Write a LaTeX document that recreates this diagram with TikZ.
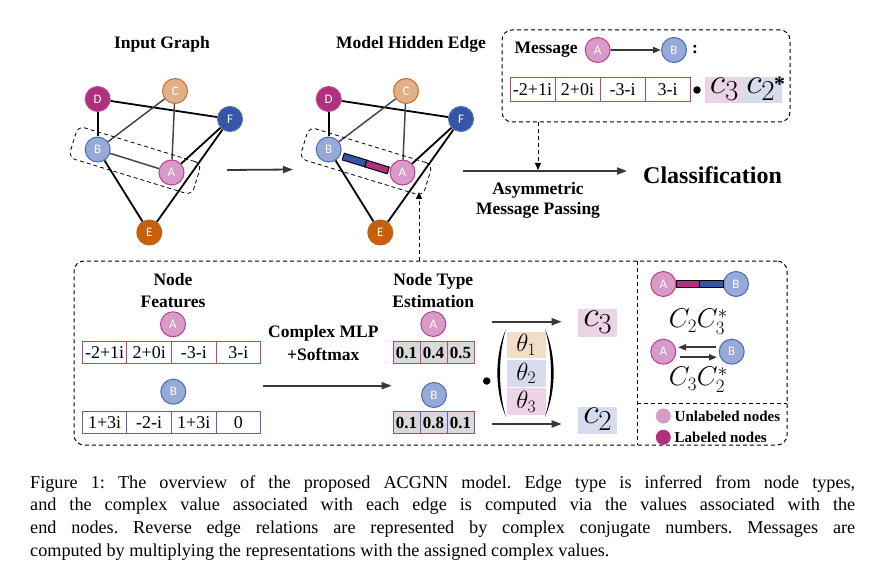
\RequirePackage{fix-cm}
\documentclass[tikz,border=0pt]{standalone}
\usepackage{amsmath}
\usepackage[no-math]{fontspec}
\setmainfont{Liberation Serif}
\newfontfamily\lblfont{Carlito}
\usetikzlibrary{arrows.meta,calc}

\definecolor{labmag}{HTML}{B0307F}
\definecolor{unlabfill}{HTML}{D89AC6}
\definecolor{unlabdraw}{HTML}{B8408F}
\definecolor{bfill}{HTML}{97A9D6}
\definecolor{bdraw}{HTML}{4A6AB8}
\definecolor{ffill}{HTML}{3556A6}
\definecolor{cfill}{HTML}{E2B088}
\definecolor{cdraw}{HTML}{C8702A}
\definecolor{efill}{HTML}{C4600E}
\definecolor{pinkbg}{HTML}{EDD3E6}
\definecolor{bluebg}{HTML}{D6DCEE}
\definecolor{beigebg}{HTML}{F2DDC6}
\definecolor{arrgray}{HTML}{383838}

\newcommand\bigcv[1]{{\fontsize{36}{36}\selectfont$c$}\raisebox{-7pt}{\fontsize{29}{29}\selectfont$#1$}}

\tikzset{
  gnode/.style={circle, minimum size=25pt, inner sep=0pt, line width=1pt, text=white, font=\lblfont\fontsize{13}{13}\selectfont},
  nA/.style={gnode, fill=unlabfill, draw=unlabdraw},
  nB/.style={gnode, fill=bfill, draw=bdraw},
  nC/.style={gnode, fill=cfill, draw=cdraw},
  nD/.style={gnode, fill=labmag, draw=labmag!85!white},
  nE/.style={gnode, fill=efill, draw=efill},
  nF/.style={gnode, fill=ffill, draw=ffill!85!white},
  ttl/.style={font=\bfseries\fontsize{17.5}{20}\selectfont, align=center},
  blk/.style={line width=1.8pt, black},
  gry/.style={line width=1.5pt, black!72},
  arr/.style={-{Triangle[length=10pt,width=7pt]}, line width=1.8pt, arrgray},
  sarr/.style={-{Triangle[length=8pt,width=6pt]}, line width=1.8pt, arrgray},
  darr/.style={-{Triangle[length=7pt,width=6pt]}, line width=1pt, dash pattern=on 4pt off 3pt, black},
  dline/.style={line width=1pt, dash pattern=on 4pt off 3pt, black},
  dbox/.style={draw, line width=1pt, dash pattern=on 4pt off 3pt, rounded corners=10pt, inner sep=0pt},
  selbox/.style={draw, line width=0.8pt, dash pattern=on 4pt off 3pt, rounded corners=7pt, inner sep=0pt, rotate=-17, minimum width=129pt, minimum height=33pt},
  fcell/.style={draw, minimum width=44.6pt, minimum height=21.7pt, inner sep=0pt, line width=1pt, font=\fontsize{18}{18}\selectfont},
  tcell/.style={draw, fill=black!15, minimum width=27pt, minimum height=22pt, inner sep=0pt, line width=1pt, font=\bfseries\fontsize{17}{17}\selectfont},
  bgbox/.style={inner sep=0pt},
  barseg/.style={draw, line width=1pt, inner sep=0pt, minimum width=23.5pt, minimum height=7pt},
}

\begin{document}
\begin{tikzpicture}[x=1pt,y=-1pt]
\useasboundingbox (0,0) rectangle (869,577);

% ---------------- Input graph ----------------
\node[ttl] (t1) at (162,44) {Input Graph};
\node[nD] (D) at (97.7,99) {D};
\node[nC] (C) at (175,91) {C};
\node[nF] (F) at (230,119) {F};
\node[nB] (B) at (97.7,149.5) {B};
\node[nA] (A) at (171.5,172.5) {A};
\node[nE] (E) at (149.3,232.5) {E};
\draw[blk] (D) -- (F);
\draw[blk] (D) -- (B);
\draw[blk] (B) -- (E);
\draw[blk] (F) -- (E);
\draw[blk] (F) -- (A);
\draw[gry] (C) -- (B);
\draw[gry] (C) -- (A);
\draw[gry] (B) -- (A);
\node[selbox] (sel1) at (135,160.5) {};

\coordinate (g1out) at (227,170);
\coordinate (g2in) at (293,169.5);
\draw[arr] (g1out) -- (g2in);

% ---------------- Model hidden edge ----------------
\node[ttl] (t2) at (411,44) {Model Hidden Edge};
\node[nD] (hD) at (328.7,99) {D};
\node[nC] (hC) at (406,91) {C};
\node[nF] (hF) at (461,119) {F};
\node[nB] (hB) at (328.7,149.5) {B};
\node[nA] (hA) at (402.5,172.5) {A};
\node[nE] (hE) at (380.3,232.5) {E};
\draw[blk] (hD) -- (hF);
\draw[blk] (hD) -- (hB);
\draw[blk] (hB) -- (hE);
\draw[blk] (hF) -- (hE);
\draw[blk] (hF) -- (hA);
\draw[gry] (hC) -- (hB);
\draw[gry] (hC) -- (hA);
\node[barseg, fill=ffill, rotate=-17] (hbar1) at (354.5,160) {};
\node[barseg, fill=labmag, rotate=-17] (hbar2) at (377,167) {};
\node[selbox] (sel2) at (366,161.5) {};

% ---------------- Message box ----------------
\node[dbox, minimum width=288pt, minimum height=92pt] (msgbox) at (646,76) {};
\node[ttl, anchor=west] (msglbl) at (511,50) {Message};
\node[nA] (mA) at (597.7,50) {A};
\node[nB] (mB) at (674,50) {B};
\draw[sarr] (mA) -- (mB);
\node[ttl] (colon) at (695,50) {:};
\foreach \t [count=\i] in {-2+1i,2+0i,-3-i,3-i}{
  \node[fcell, draw=unlabdraw, minimum width=45pt, minimum height=24pt] (mc\i) at ({487.5+45*\i},90) {\t};
}
\node[circle, fill=black, inner sep=0pt, minimum size=7.5pt] (mdot) at (697,90) {};
\node[bgbox, fill=pinkbg, minimum width=38.3pt, minimum height=26.7pt] (mcc3) at (724.2,90) {};
\node[bgbox, fill=bluebg, minimum width=38.3pt, minimum height=26.7pt] (mcc2) at (762.5,90) {};
\node[inner sep=0pt] (mc3t) at (724.2,89) {\bigcv{3}};
\node[inner sep=0pt] (mc2t) at (760.5,89) {\bigcv{2}};
\node[inner sep=0pt, font=\bfseries\fontsize{22}{22}\selectfont] (mstar) at (779.5,84) {*};

\coordinate (mdtop) at (538,122);
\coordinate (mdbot) at (538,170);
\coordinate (amp1) at (463,171);
\coordinate (amp2) at (627,171);
\draw[arr] (amp1) -- (amp2);
\draw[darr] (mdtop) -- (mdbot);
\node[ttl, font=\bfseries\fontsize{17.5}{19.5}\selectfont] (amp) at (538,200.5) {Asymmetric\\Message Passing};
\node[font=\bfseries\fontsize{24}{24}\selectfont] (cls) at (712.5,175) {Classification};

% ---------------- Bottom box ----------------
\node[dbox, minimum width=713pt, minimum height=184pt] (bot) at (430.5,353) {};
\coordinate (dv1) at (637.3,261);
\coordinate (dv2) at (637.3,445);
\draw[dline] (dv1) -- (dv2);
\coordinate (dh1) at (637.3,403.3);
\coordinate (dh2) at (787,403.3);
\draw[dline] (dh1) -- (dh2);
\coordinate (up1) at (419,261);
\coordinate (up2) at (419,192);
\draw[darr] (up1) -- (up2);

% Node features
\node[ttl, font=\bfseries\fontsize{17.5}{21.7}\selectfont] (nf) at (173,290.5) {Node\\Features};
\node[nA] (fA) at (173,324.3) {A};
\foreach \t [count=\i] in {-2+1i,2+0i,-3-i,3-i}{
  \node[fcell, draw=unlabdraw] (fa\i) at ({60+44.6*\i},352.5) {\t};
}
\node[nB] (fB) at (173.3,391.7) {B};
\foreach \t [count=\i] in {1+3i,-2-i,1+3i,0}{
  \node[fcell, draw=bdraw] (fb\i) at ({60+44.6*\i},422.5) {\t};
}

\node[ttl, font=\bfseries\fontsize{17.5}{22.6}\selectfont] (mlp) at (323.3,343) {Complex MLP\\+Softmax};
\coordinate (ml1) at (263,385.7);
\coordinate (ml2) at (391.7,385.7);
\draw[arr] (ml1) -- (ml2);

% Node type estimation
\node[ttl, font=\bfseries\fontsize{17.5}{21.7}\selectfont] (nte) at (433.3,290.8) {Node Type\\Estimation};
\node[nA] (tA) at (433.3,324) {A};
\foreach \t [count=\i] in {0.1,0.4,0.5}{
  \node[tcell, draw=unlabdraw] (ta\i) at ({379.5+27*\i},352.8) {\t};
}
\node[nB] (tB) at (434,395) {B};
\foreach \t [count=\i] in {0.1,0.8,0.1}{
  \node[tcell, draw=bdraw] (tb\i) at ({379.5+27*\i},422.8) {\t};
}

% theta vector
\coordinate (th1a) at (491.7,321.7);
\coordinate (th1b) at (561.7,321.7);
\coordinate (th2a) at (491.7,424);
\coordinate (th2b) at (561.7,424);
\draw[arr] (th1a) -- (th1b);
\draw[arr] (th2a) -- (th2b);
\node[circle, fill=black, inner sep=0pt, minimum size=7.5pt] (tdot) at (486.7,381) {};
\node[bgbox, fill=beigebg, minimum width=39.3pt, minimum height=26.7pt] (th1) at (526.3,345) {\fontsize{25}{25}\selectfont$\theta_1$};
\node[bgbox, fill=bluebg, minimum width=39.3pt, minimum height=26.7pt] (th2) at (526.3,373.4) {\fontsize{25}{25}\selectfont$\theta_2$};
\node[bgbox, fill=pinkbg, minimum width=39.3pt, minimum height=26.7pt] (th3) at (526.3,401.8) {\fontsize{25}{25}\selectfont$\theta_3$};
\fill (506,329) .. controls (494.5,355) and (494.5,391) .. (506,417)
      .. controls (498,391) and (498,355) .. (506,329) -- cycle;
\fill (545,329) .. controls (556.5,355) and (556.5,391) .. (545,417)
      .. controls (553,391) and (553,355) .. (545,329) -- cycle;

\node[bgbox, fill=pinkbg, minimum width=38.4pt, minimum height=27.4pt] (oc3) at (597.5,323) {};
\node[inner sep=0pt] (oc3t) at (597.5,322) {\bigcv{3}};
\node[bgbox, fill=bluebg, minimum width=38.4pt, minimum height=27.4pt] (oc2) at (597.5,420.3) {};
\node[inner sep=0pt] (oc2t) at (597.5,419.3) {\bigcv{2}};

% Right panel
\node[nA] (rA) at (663.3,284) {A};
\node[nB] (rB) at (736,284) {B};
\node[barseg, fill=labmag, minimum width=23.3pt, minimum height=7.6pt] (rbar1) at (687.7,284) {};
\node[barseg, fill=ffill, minimum width=24pt, minimum height=7.6pt] (rbar2) at (711.3,284) {};
\node (r23) at (698.3,322) {\fontsize{27}{27}\selectfont$C_2C_3^*$};
\node[nA] (rA2) at (663.3,351.7) {A};
\node[nB] (rB2) at (731.7,351.7) {B};
\coordinate (ru1) at (716,347.3);
\coordinate (ru2) at (678,347.3);
\coordinate (rd1) at (680,357.3);
\coordinate (rd2) at (717,357.3);
\draw[sarr] (ru1) -- (ru2);
\draw[sarr] (rd1) -- (rd2);
\node (r32) at (698.3,380) {\fontsize{27}{27}\selectfont$C_3C_2^*$};

\node[circle, fill=unlabfill, inner sep=0pt, minimum size=15pt] (lg1) at (663.3,416) {};
\node[circle, fill=labmag, inner sep=0pt, minimum size=15pt] (lg2) at (663.3,437.3) {};
\node[anchor=west, inner sep=0pt, font=\bfseries\fontsize{15}{15}\selectfont] (lt1) at (674.5,416) {Unlabeled nodes};
\node[anchor=west, inner sep=0pt, font=\bfseries\fontsize{15}{15}\selectfont] (lt2) at (674.5,437.3) {Labeled nodes};

% Caption
\node[anchor=north west, inner sep=0pt, text width=825pt, align=justify,
      font=\fontsize{18.2}{22.9}\selectfont\frenchspacing] (cap) at (30,475) {Figure 1: The overview of the proposed ACGNN model. Edge type is inferred from node types,\linebreak and the complex value associated with each edge is computed via the values associated with the\linebreak end nodes. Reverse edge relations are represented by complex conjugate numbers. Messages are\linebreak computed by multiplying the representations with the assigned complex values.};
\end{tikzpicture}
\end{document}
